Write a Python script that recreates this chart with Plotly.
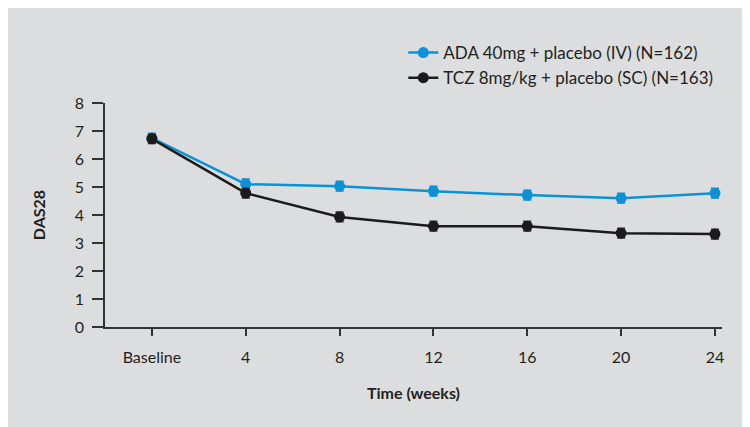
import plotly.graph_objects as go

weeks = [0, 4, 8, 12, 16, 20, 24]
tick_labels = ["Baseline", "4", "8", "12", "16", "20", "24"]
ada_mean = [6.75, 5.10, 5.03, 4.85, 4.71, 4.60, 4.78]
ada_err = [0.16, 0.18, 0.17, 0.17, 0.17, 0.17, 0.17]
tcz_mean = [6.72, 4.78, 3.93, 3.60, 3.60, 3.35, 3.32]
tcz_err = [0.16, 0.17, 0.17, 0.17, 0.17, 0.17, 0.17]

BG = "#dcdddf"
FONT = "Lato"

fig = go.Figure()
fig.add_trace(go.Scatter(
    x=weeks, y=ada_mean, mode="lines+markers",
    name="ADA 40mg + placebo (IV) (N=162)",
    line=dict(color="#0a92d6", width=2.5),
    marker=dict(color="#0a92d6", size=11),
    error_y=dict(type="data", array=ada_err, visible=True, color="#0a92d6", thickness=1.8, width=4),
))
fig.add_trace(go.Scatter(
    x=weeks, y=tcz_mean, mode="lines+markers",
    name="TCZ 8mg/kg + placebo (SC) (N=163)",
    line=dict(color="#1c1a1a", width=2.5),
    marker=dict(color="#1c1a1a", size=11),
    error_y=dict(type="data", array=tcz_err, visible=True, color="#333333", thickness=1.8, width=4),
))

L, R, T, B = 97, 36, 95, 108
W, H = 750, 427
pw, ph = W - L - R, H - T - B

fig.add_shape(type="line", xref="paper", yref="paper",
              x0=-11 / pw, x1=0, y0=0, y1=0,
              line=dict(color="#333333", width=1.5))

fig.update_layout(
    width=W, height=H,
    margin=dict(l=L, r=R, t=T, b=B),
    paper_bgcolor=BG, plot_bgcolor=BG,
    font=dict(family=FONT, size=16, color="#231f20"),
    showlegend=True,
    legend=dict(x=0.994, xanchor="right", y=(319 - 27) / ph, yanchor="top",
                bgcolor="rgba(0,0,0,0)", font=dict(size=17), tracegroupgap=0),
    xaxis=dict(range=[-2, 24.3], tickmode="array", tickvals=weeks, ticktext=tick_labels,
               showgrid=False, zeroline=False, showline=True, linecolor="#333333", linewidth=1.5,
               ticks="outside", ticklen=7, tickwidth=1.5, tickcolor="#333333",
               ticklabelstandoff=8,
               title=dict(text="<b>Time (weeks)</b>", font=dict(size=16), standoff=23)),
    yaxis=dict(range=[0, 8], tickvals=list(range(0, 9)),
               showgrid=False, zeroline=False, showline=True, linecolor="#333333", linewidth=1.5,
               ticks="outside", ticklen=11, tickwidth=1.5, tickcolor="#333333",
               ticklabelstandoff=5,
               title=dict(text="<b>DAS28</b>", font=dict(size=16), standoff=25)),
)

fig.write_html("out.html")
